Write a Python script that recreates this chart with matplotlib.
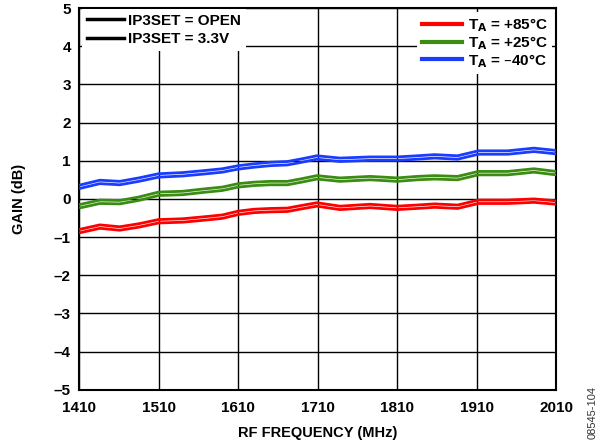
import matplotlib
matplotlib.use("Agg")
import matplotlib.pyplot as plt
from matplotlib.lines import Line2D

plt.rcParams['font.family'] = ['Liberation Sans', 'DejaVu Sans']
plt.rcParams['font.weight'] = 'bold'
plt.rcParams['mathtext.default'] = 'bf'

# RF frequency (MHz)
freq = [1410, 1436, 1461, 1485, 1510, 1540, 1566, 1590, 1610, 1630, 1650, 1672,
        1690, 1709, 1738, 1776, 1810, 1835, 1857, 1886, 1912, 1949, 1982, 2010]

# gain (dB), IP3SET = OPEN
blue_open = [0.36, 0.49, 0.46, 0.55, 0.66, 0.69, 0.74, 0.79, 0.87, 0.92, 0.96, 0.98,
             1.05, 1.13, 1.07, 1.10, 1.10, 1.13, 1.16, 1.13, 1.26, 1.26, 1.33, 1.27]
green_open = [-0.15, -0.03, -0.04, 0.05, 0.18, 0.20, 0.26, 0.31, 0.40, 0.44, 0.46, 0.46,
              0.53, 0.61, 0.55, 0.59, 0.55, 0.59, 0.61, 0.59, 0.72, 0.72, 0.79, 0.72]
red_open = [-0.80, -0.68, -0.73, -0.65, -0.54, -0.52, -0.47, -0.42, -0.32, -0.27, -0.25, -0.24,
            -0.17, -0.10, -0.19, -0.14, -0.19, -0.16, -0.13, -0.16, -0.03, -0.03, 0.00, -0.05]

# gain (dB), IP3SET = 3.3V
blue_33 = [0.27, 0.40, 0.37, 0.46, 0.57, 0.60, 0.65, 0.70, 0.78, 0.83, 0.87, 0.89,
           0.96, 1.04, 0.98, 1.01, 1.01, 1.04, 1.07, 1.04, 1.17, 1.17, 1.24, 1.18]
green_33 = [-0.24, -0.12, -0.13, -0.04, 0.09, 0.11, 0.17, 0.22, 0.31, 0.35, 0.37, 0.37,
            0.44, 0.52, 0.46, 0.50, 0.46, 0.50, 0.52, 0.50, 0.63, 0.63, 0.70, 0.63]
red_33 = [-0.89, -0.77, -0.82, -0.74, -0.63, -0.61, -0.56, -0.51, -0.41, -0.36, -0.34, -0.33,
          -0.26, -0.19, -0.28, -0.23, -0.28, -0.25, -0.22, -0.25, -0.12, -0.12, -0.09, -0.14]

x_ticks = [1410, 1510, 1610, 1710, 1810, 1910, 2010]
y_ticks = [-5, -4, -3, -2, -1, 0, 1, 2, 3, 4, 5]

RED, GREEN, BLUE = '#ff0000', '#3a8c12', '#1a3cff'

fig = plt.figure(figsize=(6, 4.46), dpi=100)
ax = fig.add_axes([0.132, 0.126, 0.795, 0.856])

for vals, c in [(red_open, RED), (red_33, RED), (green_open, GREEN),
                (green_33, GREEN), (blue_open, BLUE), (blue_33, BLUE)]:
    ax.plot(freq, vals, color=c, lw=2.0, solid_capstyle='butt', zorder=3)

ax.set_xlim(1410, 2010)
ax.set_ylim(-5, 5)
ax.set_xticks(x_ticks)
ax.set_yticks(y_ticks)
ax.set_xticklabels([str(t) for t in x_ticks])
ax.set_yticklabels([str(t).replace('-', '\u2013') for t in y_ticks])
ax.tick_params(length=0, labelsize=11)
ax.tick_params(axis='x', pad=8)
ax.tick_params(axis='y', pad=6)
ax.grid(True, color='black', lw=1.0)
for s in ax.spines.values():
    s.set_linewidth(1.5)

ax.set_xlabel('RF FREQUENCY (MHz)', fontsize=10.5, fontweight='bold', labelpad=8)
ax.set_ylabel('GAIN (dB)', fontsize=10.5, fontweight='bold', labelpad=20)

h1 = [Line2D([], [], color='black', lw=2.5), Line2D([], [], color='black', lw=2.5)]
leg1 = ax.legend(h1, ['IP3SET = OPEN', 'IP3SET = 3.3V'], loc='upper left',
                 bbox_to_anchor=(0.0, 1.005), frameon=True, fancybox=False,
                 edgecolor='none', facecolor='white', framealpha=1.0,
                 prop={'weight': 'bold', 'size': 11}, handlelength=2.4,
                 handletextpad=0.3, labelspacing=0.3, borderaxespad=0.2,
                 borderpad=0.3)
ax.add_artist(leg1)

h2 = [Line2D([], [], color=RED, lw=3), Line2D([], [], color=GREEN, lw=3),
      Line2D([], [], color=BLUE, lw=3)]
leg2 = ax.legend(h2, ['T$_{\\mathbf{A}}$ = +85°C', 'T$_{\\mathbf{A}}$ = +25°C',
                      'T$_{\\mathbf{A}}$ = \u201340°C'],
                 loc='upper right', bbox_to_anchor=(1.0, 1.0), frameon=True,
                 fancybox=False, edgecolor='none', facecolor='white', framealpha=1.0,
                 prop={'weight': 'bold', 'size': 11}, handlelength=2.6,
                 handletextpad=0.4, labelspacing=0.0, borderaxespad=0.25,
                 borderpad=0.3)

fig.text(0.987, 0.075, '08545-104', rotation=90, fontsize=8, fontweight='normal',
         color='#333333', ha='center', va='center')

fig.savefig('out.png', dpi=100)
